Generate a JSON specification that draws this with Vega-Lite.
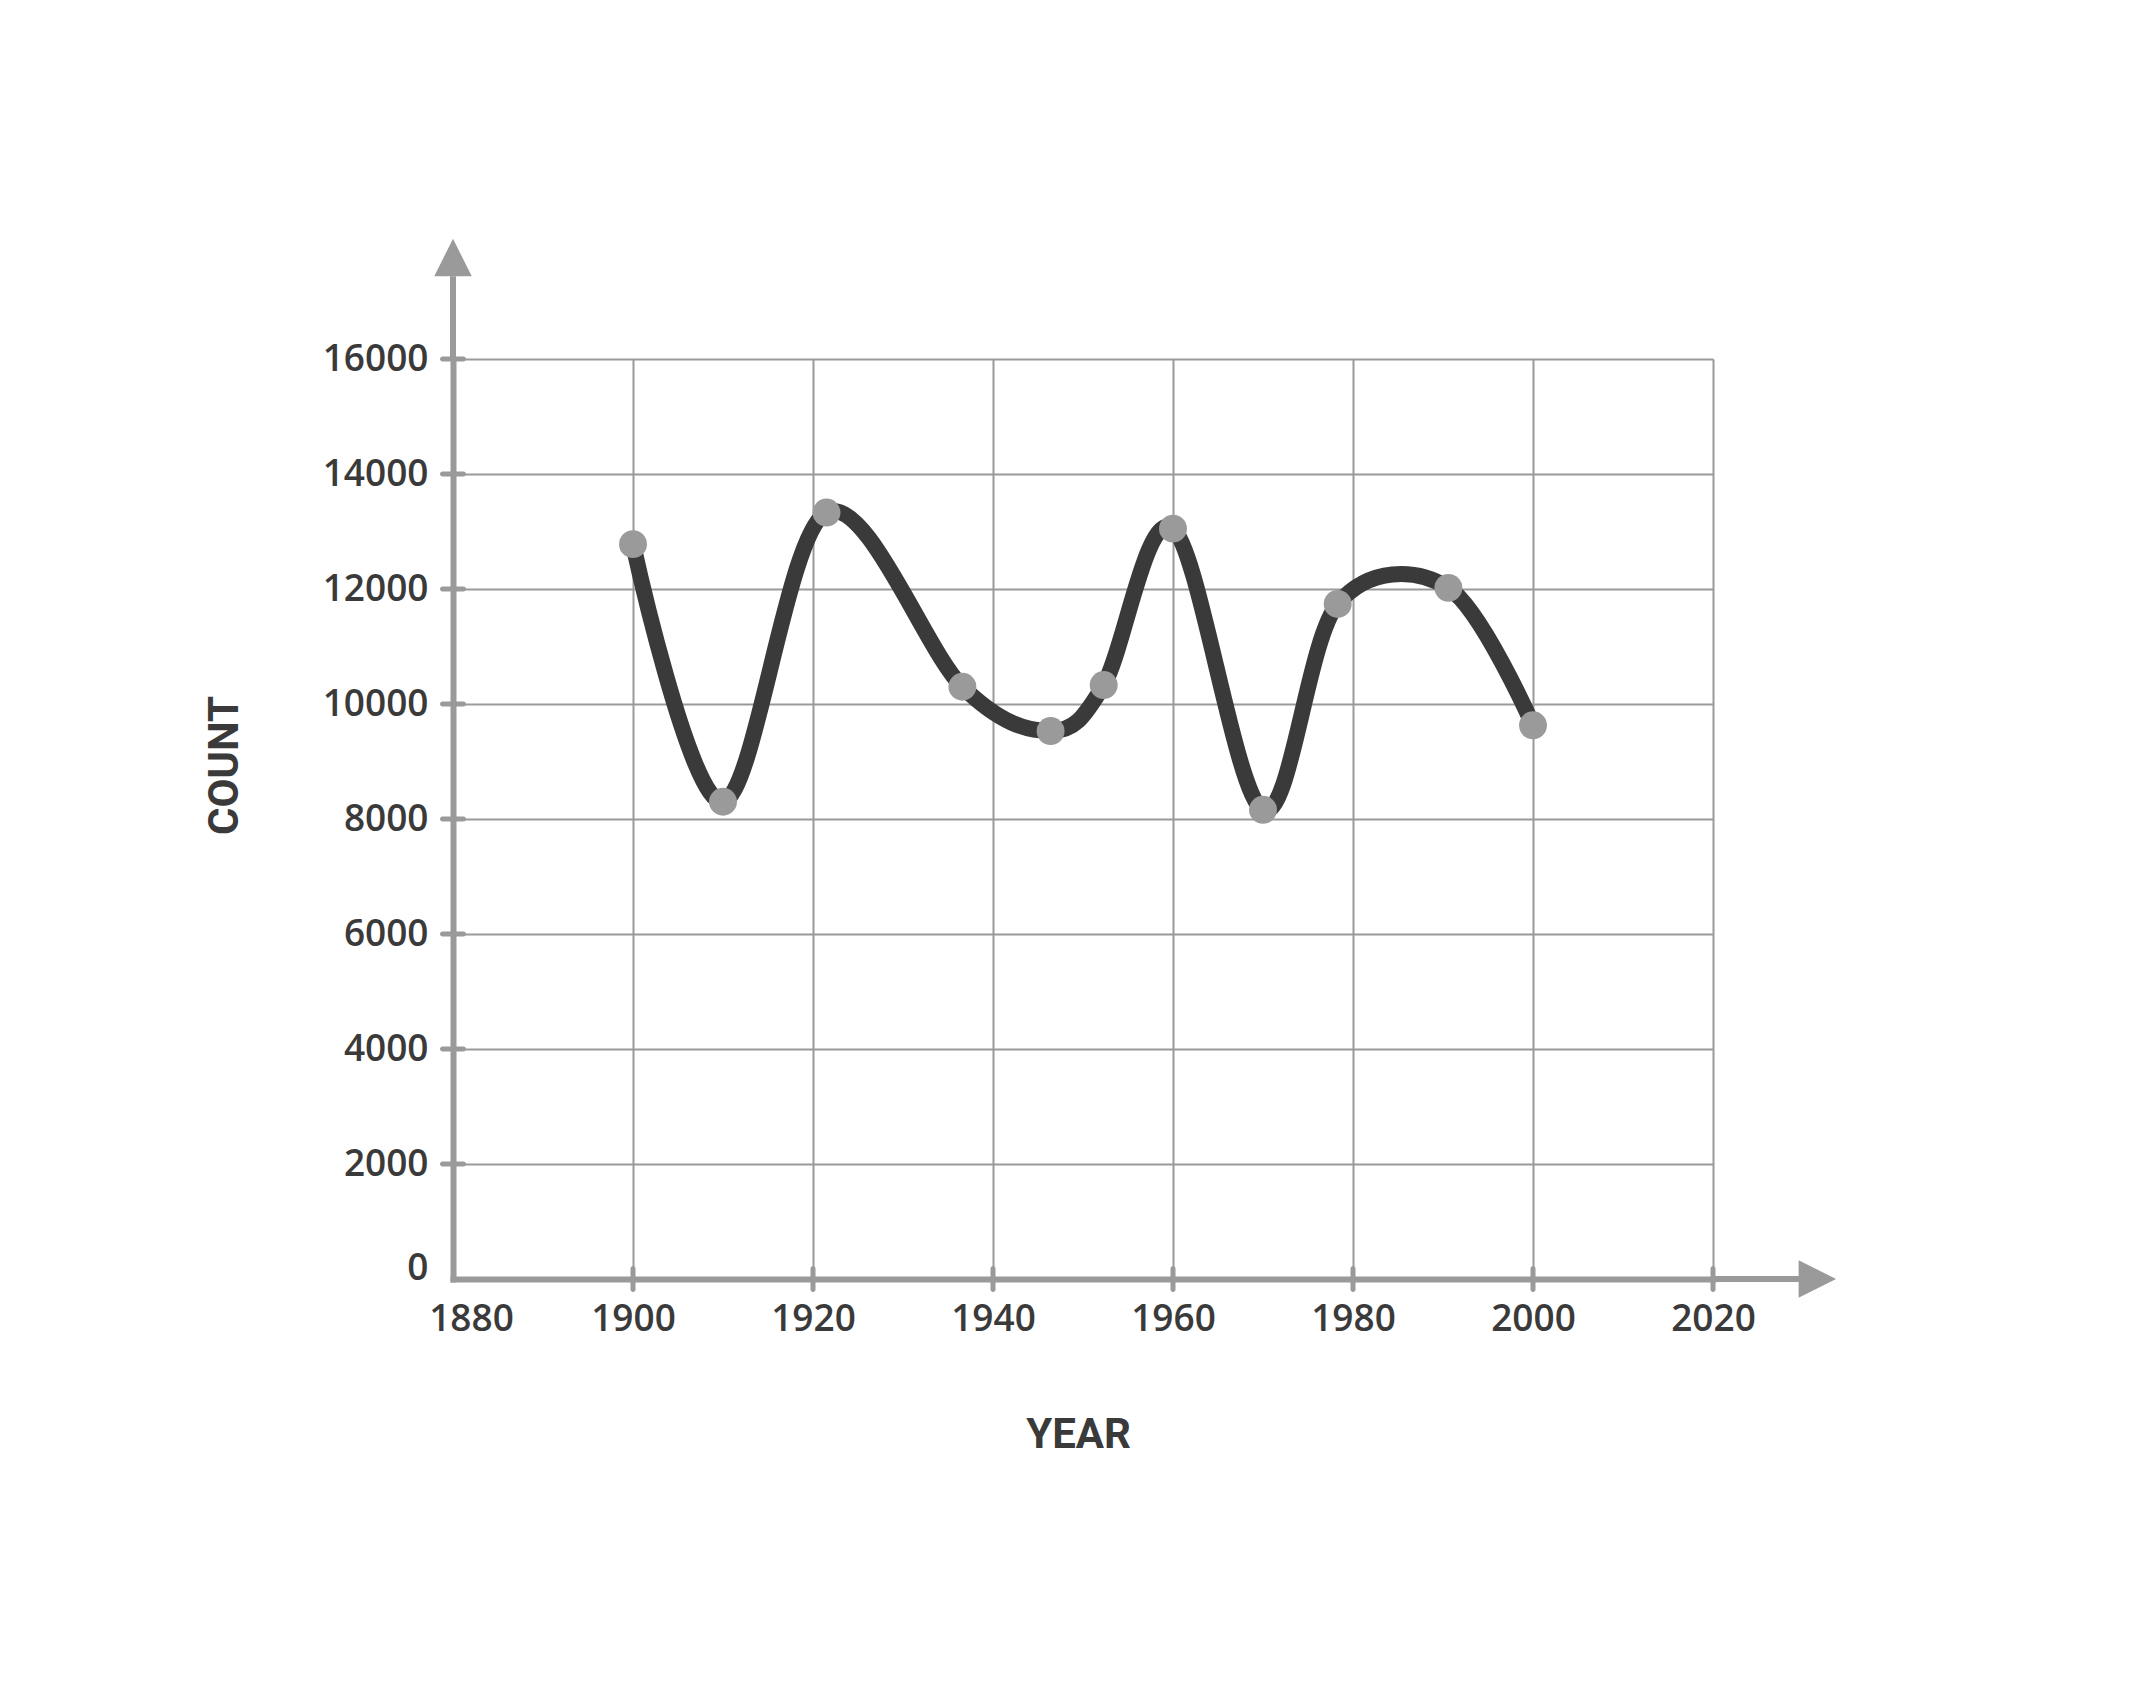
{
  "$schema": "https://vega.github.io/schema/vega-lite/v6.json",
  "width": 1260,
  "height": 920,
  "autosize": "none",
  "padding": {"left": 453, "top": 359, "right": 425, "bottom": 417},
  "background": "white",
  "config": {"view": {"stroke": null}},
  "datasets": {
    "series": [
      {"year": 1900, "count": 12780},
      {"year": 1910, "count": 8300},
      {"year": 1921.5, "count": 13330},
      {"year": 1936.6, "count": 10300},
      {"year": 1946.4, "count": 9530},
      {"year": 1952.3, "count": 10330},
      {"year": 1960, "count": 13050},
      {"year": 1970, "count": 8160},
      {"year": 1978.3, "count": 11740},
      {"year": 1990.6, "count": 12020},
      {"year": 2000, "count": 9630}
    ],
    "xticks": [
      {"year": 1900}, {"year": 1920}, {"year": 1940}, {"year": 1960},
      {"year": 1980}, {"year": 2000}, {"year": 2020}
    ],
    "yticks": [
      {"count": 2000}, {"count": 4000}, {"count": 6000}, {"count": 8000},
      {"count": 10000}, {"count": 12000}, {"count": 14000}, {"count": 16000}
    ]
  },
  "layer": [
    {
      "data": {"name": "series"},
      "mark": {"type": "line", "interpolate": "cardinal", "color": "#3a3a3a", "strokeWidth": 16},
      "encoding": {
        "x": {
          "field": "year", "type": "quantitative", "title": "YEAR",
          "scale": {"domain": [1880, 2020], "nice": false, "zero": false},
          "axis": {
            "values": [1880, 1900, 1920, 1940, 1960, 1980, 2000, 2020],
            "format": "d",
            "grid": true, "gridColor": "#9a9a9a", "gridWidth": 2,
            "domain": true, "domainColor": "#9a9a9a", "domainWidth": 6, "domainCap": "square",
            "ticks": false, "tickSize": 0,
            "labelFlush": false,
            "labelFont": "Open Sans", "labelFontWeight": 600, "labelFontSize": 37, "labelColor": "#3a3a3a",
            "labelBaseline": "alphabetic", "labelPadding": 51,
            "labelOffset": {"condition": {"test": "datum.value == 1880", "value": 18}, "value": 0},
            "titleFont": "Roboto", "titleFontWeight": "bold", "titleFontSize": 42, "titleColor": "#3a3a3a",
            "titleBaseline": "alphabetic", "titleAlign": "center", "titleX": 625, "titleY": 168
          }
        },
        "y": {
          "field": "count", "type": "quantitative", "title": "COUNT",
          "scale": {"domain": [0, 16000], "nice": false},
          "axis": {
            "values": [0, 2000, 4000, 6000, 8000, 10000, 12000, 14000, 16000],
            "format": "d",
            "grid": true, "gridColor": "#9a9a9a", "gridWidth": 2,
            "domain": true, "domainColor": "#9a9a9a", "domainWidth": 6, "domainCap": "square",
            "ticks": false, "tickSize": 0,
            "labelFlush": false,
            "labelFont": "Open Sans", "labelFontWeight": 600, "labelFontSize": 37, "labelColor": "#3a3a3a",
            "labelPadding": 25,
            "labelBaseline": {"condition": {"test": "datum.value == 0", "value": "alphabetic"}, "value": "middle"},
            "titleFont": "Roboto", "titleFontWeight": "bold", "titleFontSize": 42, "titleColor": "#3a3a3a",
            "titleBaseline": "alphabetic", "titleAlign": "center", "titleAngle": -90, "titleX": -216, "titleY": 406
          }
        }
      }
    },
    {
      "data": {"name": "xticks"},
      "mark": {"type": "tick", "orient": "vertical", "color": "#9a9a9a", "size": 26, "thickness": 5, "cornerRadius": 2.5, "opacity": 1},
      "encoding": {
        "x": {"field": "year", "type": "quantitative", "title": "YEAR"},
        "y": {"datum": 0, "type": "quantitative", "title": "COUNT"}
      }
    },
    {
      "data": {"name": "yticks"},
      "mark": {"type": "tick", "orient": "horizontal", "color": "#9a9a9a", "size": 26, "thickness": 5, "cornerRadius": 2.5, "opacity": 1},
      "encoding": {
        "x": {"datum": 1880, "type": "quantitative", "title": "YEAR"},
        "y": {"field": "count", "type": "quantitative", "title": "COUNT"}
      }
    },
    {
      "data": {"values": [{}]},
      "mark": {"type": "rule", "color": "#9a9a9a", "strokeWidth": 6},
      "encoding": {
        "x": {"datum": 1880, "type": "quantitative", "title": "YEAR"},
        "y": {"datum": 16000, "type": "quantitative", "title": "COUNT"},
        "y2": {"datum": 17440}
      }
    },
    {
      "data": {"values": [{}]},
      "mark": {"type": "rule", "color": "#9a9a9a", "strokeWidth": 6},
      "encoding": {
        "x": {"datum": 2020, "type": "quantitative", "title": "YEAR"},
        "x2": {"datum": 2029.8},
        "y": {"datum": 0, "type": "quantitative", "title": "COUNT"}
      }
    },
    {
      "data": {"values": [{}]},
      "mark": {"type": "point", "shape": "M0,-1L1,1L-1,1Z", "size": 1406, "filled": true, "color": "#9a9a9a", "opacity": 1},
      "encoding": {
        "x": {"datum": 1880, "type": "quantitative", "title": "YEAR"},
        "y": {"datum": 17765, "type": "quantitative", "title": "COUNT"}
      }
    },
    {
      "data": {"values": [{}]},
      "mark": {"type": "point", "shape": "M1,0L-1,-1L-1,1Z", "size": 1406, "filled": true, "color": "#9a9a9a", "opacity": 1},
      "encoding": {
        "x": {"datum": 2031.6, "type": "quantitative", "title": "YEAR"},
        "y": {"datum": 0, "type": "quantitative", "title": "COUNT"}
      }
    },
    {
      "data": {"name": "series"},
      "mark": {"type": "point", "filled": true, "color": "#9a9a9a", "size": 780, "opacity": 1},
      "encoding": {
        "x": {"field": "year", "type": "quantitative", "title": "YEAR"},
        "y": {"field": "count", "type": "quantitative", "title": "COUNT"}
      }
    }
  ]
}
